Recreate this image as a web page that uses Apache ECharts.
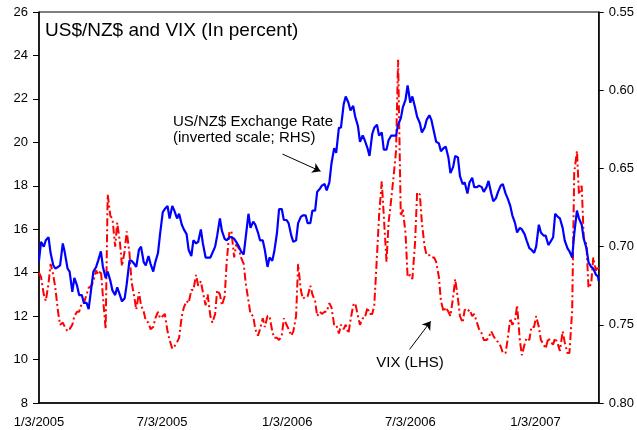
<!DOCTYPE html>
<html>
<head>
<meta charset="utf-8">
<script src="https://cdn.jsdelivr.net/npm/echarts@6/dist/echarts.min.js"></script>
<style>
  html, body { margin: 0; padding: 0; background: #fff; }
  #chart { width: 637px; height: 430px; }
</style>
</head>
<body>
<div id="chart"></div>
<script>
// two readings a week (Monday, Thursday) from 1/3/2005, plus the last day shown
const firstWeek = [2005, 0, 3];
const lastDay = [2007, 3, 6];
const xLabelDates = [[2005, 0, 3], [2005, 6, 3], [2006, 0, 3], [2006, 6, 3], [2007, 0, 3]];

// VIX (LHS), percent
const vix = [
  14.0, 13.8, 13.0, 12.7, 13.5, 14.4, 13.9, 13.3, 12.2, 11.6,
  11.7, 11.5, 11.3, 11.4, 11.6, 12.0, 12.2, 12.2, 12.6, 12.6,
  13.0, 13.3, 13.4, 13.6, 14.1, 13.9, 14.1, 12.9, 11.4, 17.6,
  16.6, 16.5, 15.2, 16.3, 15.4, 14.3, 15.0, 15.9, 14.9, 13.6,
  12.9, 12.3, 13.1, 12.5, 12.2, 11.8, 11.7, 11.4, 11.5, 11.9,
  12.2, 11.9, 12.0, 12.1, 11.3, 10.9, 10.5, 10.6, 10.8, 11.0,
  12.0, 12.4, 12.7, 12.6, 13.2, 13.2, 13.9, 13.4, 13.6, 13.1,
  12.5, 13.0, 12.0, 11.7, 12.1, 13.2, 13.0, 12.5, 12.9, 14.5,
  15.9, 15.9, 14.7, 15.3, 15.1, 14.7, 14.4, 13.5, 12.7, 12.1,
  12.0, 11.4, 11.1, 11.4, 11.9, 11.5, 12.0, 12.0, 11.3, 11.0,
  11.0, 10.9, 11.1, 11.9, 11.6, 11.4, 11.1, 11.3, 12.0, 14.4,
  13.2, 12.8, 12.9, 12.9, 13.4, 13.0, 12.7, 12.0, 12.2, 12.1,
  12.2, 12.2, 12.6, 12.4, 11.6, 11.6, 11.2, 11.6, 11.4, 11.6,
  11.2, 11.8, 12.5, 12.6, 12.0, 11.6, 11.9, 11.9, 12.4, 12.1,
  12.1, 12.5, 14.8, 16.6, 18.2, 16.6, 14.5, 16.3, 17.4, 18.3,
  19.6, 23.8, 16.6, 16.9, 15.8, 13.8, 13.9, 13.7, 15.4, 17.7,
  17.6, 16.3, 15.2, 14.8, 14.8, 14.7, 14.7, 14.5, 13.8, 12.7,
  12.2, 12.4, 12.2, 12.0, 12.9, 13.7, 12.8, 12.0, 11.7, 12.3,
  12.2, 12.3, 12.0, 12.1, 11.7, 11.4, 11.2, 10.9, 10.9, 11.0,
  11.3, 11.1, 10.9, 10.8, 10.6, 10.3, 10.3, 10.9, 11.9, 11.6,
  11.8, 12.5, 10.9, 10.2, 10.7, 11.0, 10.9, 11.5, 11.5, 12.0,
  11.5, 10.9, 10.7, 10.5, 11.0, 10.8, 10.7, 11.0, 10.7, 10.4,
  11.3, 10.8, 10.3, 10.3, 12.3, 18.6, 19.6, 17.6, 18.0, 15.6,
  15.3, 13.3, 13.5, 14.7, 14.1, 14.3, 14.1
];

// US$/NZ$ exchange rate (RHS, inverted)
const usnz = [
  0.709, 0.697, 0.700, 0.696, 0.694, 0.704, 0.712, 0.714, 0.713, 0.712,
  0.698, 0.704, 0.714, 0.716, 0.729, 0.720, 0.725, 0.731, 0.731, 0.736,
  0.736, 0.740, 0.726, 0.716, 0.713, 0.709, 0.703, 0.713, 0.720, 0.716,
  0.722, 0.728, 0.731, 0.726, 0.731, 0.735, 0.733, 0.724, 0.709, 0.709,
  0.711, 0.713, 0.702, 0.700, 0.710, 0.712, 0.706, 0.711, 0.716, 0.710,
  0.704, 0.692, 0.678, 0.676, 0.674, 0.682, 0.674, 0.677, 0.682, 0.679,
  0.686, 0.689, 0.692, 0.702, 0.706, 0.696, 0.698, 0.697, 0.689, 0.698,
  0.707, 0.707, 0.707, 0.704, 0.700, 0.693, 0.682, 0.690, 0.695, 0.696,
  0.694, 0.694, 0.695, 0.697, 0.700, 0.703, 0.705, 0.694, 0.679, 0.688,
  0.684, 0.686, 0.691, 0.696, 0.696, 0.702, 0.713, 0.707, 0.709, 0.703,
  0.691, 0.676, 0.676, 0.683, 0.683, 0.685, 0.693, 0.697, 0.696, 0.685,
  0.681, 0.680, 0.680, 0.685, 0.685, 0.677, 0.677, 0.665, 0.663, 0.661,
  0.660, 0.664, 0.659, 0.647, 0.637, 0.640, 0.624, 0.624, 0.609, 0.604,
  0.608, 0.613, 0.610, 0.617, 0.623, 0.633, 0.629, 0.632, 0.637, 0.642,
  0.628, 0.624, 0.622, 0.629, 0.627, 0.638, 0.638, 0.632, 0.629, 0.629,
  0.629, 0.622, 0.618, 0.611, 0.606, 0.597, 0.608, 0.604, 0.611, 0.617,
  0.621, 0.627, 0.624, 0.619, 0.616, 0.619, 0.627, 0.633, 0.634, 0.639,
  0.637, 0.636, 0.643, 0.653, 0.649, 0.642, 0.643, 0.655, 0.660, 0.659,
  0.666, 0.659, 0.656, 0.662, 0.662, 0.661, 0.662, 0.665, 0.662, 0.658,
  0.666, 0.671, 0.669, 0.665, 0.661, 0.660, 0.666, 0.669, 0.674, 0.680,
  0.685, 0.691, 0.688, 0.689, 0.692, 0.696, 0.701, 0.702, 0.704, 0.700,
  0.686, 0.691, 0.693, 0.693, 0.699, 0.697, 0.694, 0.679, 0.681, 0.682,
  0.688, 0.696, 0.701, 0.703, 0.707, 0.692, 0.677, 0.682, 0.686, 0.695,
  0.701, 0.710, 0.713, 0.714, 0.718, 0.719, 0.722
];

const toTime = (d) => new Date(d[0], d[1], d[2]).getTime();

const dates = [];
for (let w = 0; dates.length < vix.length - 1; w++) {
  dates.push(new Date(firstWeek[0], firstWeek[1], firstWeek[2] + 7 * w).getTime());
  dates.push(new Date(firstWeek[0], firstWeek[1], firstWeek[2] + 7 * w + 3).getTime());
}
dates.push(toTime(lastDay));

const font = "'Liberation Sans', Arial, sans-serif";

const chart = echarts.init(document.getElementById("chart"), null, { renderer: "canvas" });

chart.setOption({
  animation: false,
  backgroundColor: "#fff",
  textStyle: { fontFamily: font },
  grid: {
    left: 39,
    right: 37,
    top: 12,
    bottom: 27,
    show: true,
    borderColor: "#000",
    borderWidth: 1,
  },
  xAxis: {
    type: "value",
    min: toTime(firstWeek),
    max: toTime(lastDay),
    axisLine: { lineStyle: { color: "#000", width: 1.5 } },
    axisTick: { show: false },
    splitLine: { show: false },
    axisLabel: {
      customValues: xLabelDates.map(toTime),
      color: "#000",
      fontSize: 13,
      fontFamily: font,
      margin: 13,
      hideOverlap: false,
      formatter: function (v) {
        const d = new Date(v);
        return d.getMonth() + 1 + "/" + d.getDate() + "/" + d.getFullYear();
      },
    },
  },
  yAxis: [
    {
      type: "value",
      position: "left",
      min: 8,
      max: 26,
      interval: 2,
      axisLine: { show: true, lineStyle: { color: "#000", width: 1.5 } },
      axisTick: { show: true, length: 6, lineStyle: { color: "#000" } },
      splitLine: { show: false },
      axisLabel: { color: "#000", fontSize: 13, fontFamily: font, margin: 11 },
    },
    {
      type: "value",
      position: "right",
      inverse: true,
      min: 0.55,
      max: 0.8,
      interval: 0.05,
      axisLine: { show: true, lineStyle: { color: "#000", width: 1.5 } },
      axisTick: { show: true, length: 5, lineStyle: { color: "#000" } },
      splitLine: { show: false },
      axisLabel: {
        color: "#000",
        fontSize: 13,
        fontFamily: font,
        margin: 10,
        formatter: (v) => v.toFixed(2),
      },
    },
  ],
  series: [
    {
      name: "VIX (LHS)",
      type: "line",
      yAxisIndex: 0,
      showSymbol: false,
      z: 2,
      data: dates.map((d, i) => [d, vix[i]]),
      lineStyle: { color: "#ff0000", width: 2, type: [8, 3, 2, 3] },
      markLine: {
        silent: true,
        symbol: ["none", "arrow"],
        symbolSize: 8,
        label: { show: false },
        lineStyle: { color: "#000", width: 1, type: "solid" },
        data: [
          [{ coord: [toTime([2005, 11, 27]), 19.46] }, { coord: [toTime([2006, 1, 21]), 18.67] }],
          [{ coord: [toTime([2006, 6, 2]), 10.47] }, { coord: [toTime([2006, 7, 2]), 11.76] }],
        ],
      },
    },
    {
      name: "US/NZ$ Exchange Rate",
      type: "line",
      yAxisIndex: 1,
      showSymbol: false,
      z: 3,
      data: dates.map((d, i) => [d, usnz[i]]),
      lineStyle: { color: "#0000ff", width: 2.2 },
    },
  ],
  graphic: [
    {
      type: "text",
      x: 45,
      y: 31,
      style: { text: "US$/NZ$ and VIX (In percent)", font: "19px " + font, fill: "#000", verticalAlign: "middle" },
    },
    {
      type: "text",
      x: 173,
      y: 122,
      style: { text: "US/NZ$ Exchange Rate", font: "15px " + font, fill: "#000", verticalAlign: "middle" },
    },
    {
      type: "text",
      x: 173,
      y: 138,
      style: { text: "(inverted scale; RHS)", font: "15px " + font, fill: "#000", verticalAlign: "middle" },
    },
    {
      type: "text",
      x: 410,
      y: 363,
      style: { text: "VIX (LHS)", font: "15px " + font, fill: "#000", align: "center", verticalAlign: "middle" },
    },
  ],
});
</script>
</body>
</html>
